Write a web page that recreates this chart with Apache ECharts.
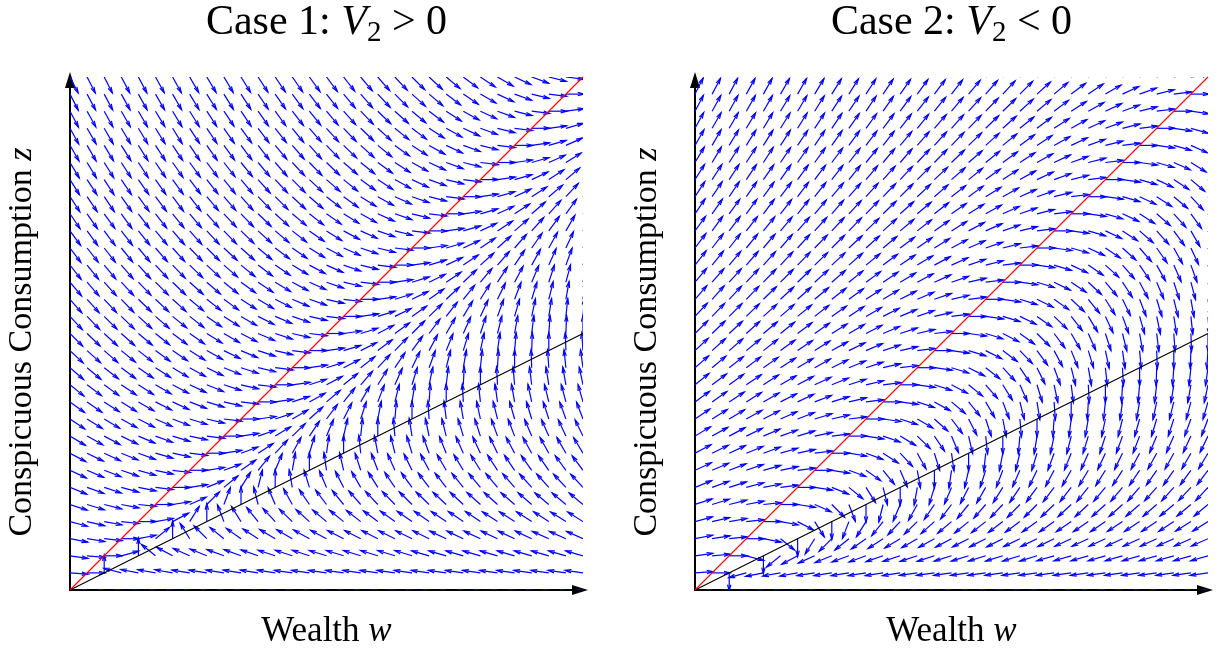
<!DOCTYPE html>
<html>
<head>
<meta charset="utf-8">
<script src="https://cdn.jsdelivr.net/npm/echarts@6/dist/echarts.min.js"></script>
<style>html,body{margin:0;padding:0;background:#fff}#c{width:1218px;height:652px}</style>
</head>
<body>
<div id="c"></div>
<script>
// Arrow directions (degrees, counter-clockwise from +w).
// One string per row, from z = 0 (bottom) to z = 1 (top); 31 arrows per row, from w = 0 to w = 1.
const case1Angles = [
"180 180 180 180 180 180 180 180 180 180 180 180 180 180 180 180 180 180 180 180 180 180 180 180 180 180 180 180 180 180 180",
"-4 0 90 165 169 170 170 171 171 171 171 171 171 172 172 172 172 172 172 172 172 172 172 172 172 172 172 172 172 172 172",
"-8 -5 0 15 90 141 152 156 158 160 160 161 162 162 162 163 163 163 163 163 163 164 164 164 164 164 164 164 164 164 164",
"-11 -9 -6 0 11 39 90 122 135 141 145 147 149 150 151 152 153 153 153 154 154 154 155 155 155 155 155 155 156 156 156",
"-15 -13 -10 -6 0 10 28 58 90 111 122 129 133 136 138 140 141 142 143 144 145 145 146 146 146 147 147 147 147 148 148",
"-18 -17 -14 -11 -6 0 9 24 45 69 90 104 113 119 124 127 129 131 133 134 135 136 137 137 138 138 139 139 140 140 140",
"-22 -20 -18 -15 -11 -7 0 9 22 39 58 76 90 100 107 113 117 120 122 124 126 127 128 129 130 130 131 132 132 133 133",
"-25 -23 -21 -19 -16 -12 -7 0 9 20 35 51 67 80 90 98 103 108 111 114 116 118 120 121 122 123 124 125 125 126 127",
"-28 -26 -25 -22 -20 -16 -12 -7 0 9 20 33 47 61 73 82 90 96 101 104 107 110 112 114 115 116 118 119 119 120 121",
"-31 -29 -28 -26 -23 -20 -17 -12 -7 0 9 19 31 44 56 67 77 84 90 95 99 102 104 107 108 110 111 113 114 115 116",
"-34 -32 -31 -29 -27 -24 -21 -17 -13 -7 0 8 18 30 42 53 63 72 79 85 90 94 97 100 102 104 106 107 108 110 111",
"-36 -35 -33 -32 -30 -27 -25 -21 -17 -13 -7 0 8 18 29 40 51 60 69 76 81 86 90 93 96 98 100 102 104 105 106",
"-39 -37 -36 -34 -33 -30 -28 -25 -22 -18 -13 -7 0 8 18 28 39 49 58 66 73 78 83 87 90 93 95 97 99 100 102",
"-41 -40 -38 -37 -35 -33 -31 -29 -26 -22 -18 -13 -7 0 8 17 27 38 47 56 64 70 76 80 84 87 90 92 94 96 98",
"-43 -42 -41 -39 -38 -36 -34 -32 -29 -26 -23 -18 -13 -7 0 8 17 27 37 46 54 62 68 73 78 82 85 88 90 92 94",
"-45 -44 -43 -42 -40 -39 -37 -35 -32 -30 -27 -23 -18 -13 -7 0 8 17 27 36 45 53 60 66 72 76 80 83 86 88 90",
"-47 -46 -45 -44 -42 -41 -39 -38 -35 -33 -30 -27 -23 -19 -13 -7 0 8 17 26 35 44 52 59 65 70 74 78 81 84 86",
"-49 -48 -47 -46 -44 -43 -42 -40 -38 -36 -33 -31 -27 -23 -19 -13 -7 0 8 17 26 35 43 51 58 64 69 73 76 80 82",
"-50 -49 -48 -47 -46 -45 -44 -42 -41 -39 -36 -34 -31 -28 -24 -19 -13 -7 0 8 17 26 34 43 50 57 62 67 72 75 78",
"-52 -51 -50 -49 -48 -47 -46 -44 -43 -41 -39 -37 -34 -31 -28 -24 -19 -14 -7 0 8 17 25 34 42 49 56 61 66 70 74",
"-53 -52 -52 -51 -50 -49 -48 -46 -45 -43 -42 -40 -37 -35 -32 -28 -24 -19 -14 -7 0 8 16 25 34 42 49 55 61 65 69",
"-54 -54 -53 -52 -51 -50 -49 -48 -47 -46 -44 -42 -40 -38 -35 -32 -28 -24 -19 -14 -7 0 8 16 25 33 41 48 54 60 65",
"-56 -55 -54 -54 -53 -52 -51 -50 -49 -47 -46 -44 -42 -40 -38 -35 -32 -29 -24 -19 -14 -7 0 8 16 25 33 41 48 54 59",
"-57 -56 -56 -55 -54 -53 -53 -52 -50 -49 -48 -46 -45 -43 -41 -38 -36 -32 -29 -24 -19 -14 -7 0 8 16 25 33 40 47 53",
"-58 -57 -57 -56 -55 -55 -54 -53 -52 -51 -50 -48 -47 -45 -43 -41 -39 -36 -33 -29 -25 -20 -14 -7 0 8 16 25 33 40 47",
"-59 -59 -58 -57 -57 -56 -55 -54 -53 -52 -51 -50 -49 -47 -46 -44 -41 -39 -36 -33 -29 -25 -20 -14 -7 0 8 16 24 32 40",
"-60 -60 -59 -58 -58 -57 -56 -56 -55 -54 -53 -52 -50 -49 -48 -46 -44 -42 -39 -36 -33 -29 -25 -20 -14 -7 0 8 16 24 32",
"-61 -60 -60 -59 -59 -58 -58 -57 -56 -55 -54 -53 -52 -51 -49 -48 -46 -44 -42 -39 -37 -33 -29 -25 -20 -14 -7 0 8 16 24",
"-62 -61 -61 -60 -60 -59 -59 -58 -57 -56 -56 -55 -54 -52 -51 -50 -48 -46 -44 -42 -40 -37 -33 -29 -25 -20 -14 -7 0 8 16",
"-63 -62 -62 -61 -61 -60 -60 -59 -58 -58 -57 -56 -55 -54 -53 -52 -50 -49 -47 -45 -42 -40 -37 -34 -30 -25 -20 -14 -7 0 8",
"-63 -63 -63 -62 -62 -61 -61 -60 -59 -59 -58 -57 -56 -55 -54 -53 -52 -50 -49 -47 -45 -43 -40 -37 -34 -30 -25 -20 -14 -7 0"
];
const case2Angles = [
"180 180 180 180 180 180 180 180 180 180 180 180 180 180 180 180 180 180 180 180 180 180 180 180 180 180 180 180 180 180 180",
"4 0 -90 -165 -169 -170 -170 -171 -171 -171 -171 -171 -171 -172 -172 -172 -172 -172 -172 -172 -172 -172 -172 -172 -172 -172 -172 -172 -172 -172 -172",
"8 5 0 -15 -90 -141 -152 -156 -158 -160 -160 -161 -162 -162 -162 -163 -163 -163 -163 -163 -163 -164 -164 -164 -164 -164 -164 -164 -164 -164 -164",
"11 9 6 0 -11 -39 -90 -122 -135 -141 -145 -147 -149 -150 -151 -152 -153 -153 -153 -154 -154 -154 -155 -155 -155 -155 -155 -155 -156 -156 -156",
"15 13 10 6 0 -10 -28 -58 -90 -111 -122 -129 -133 -136 -138 -140 -141 -142 -143 -144 -145 -145 -146 -146 -146 -147 -147 -147 -147 -148 -148",
"18 17 14 11 6 0 -9 -24 -45 -69 -90 -104 -113 -119 -124 -127 -129 -131 -133 -134 -135 -136 -137 -137 -138 -138 -139 -139 -140 -140 -140",
"22 20 18 15 11 7 0 -9 -22 -39 -58 -76 -90 -100 -107 -113 -117 -120 -122 -124 -126 -127 -128 -129 -130 -130 -131 -132 -132 -133 -133",
"25 23 21 19 16 12 7 0 -9 -20 -35 -51 -67 -80 -90 -98 -103 -108 -111 -114 -116 -118 -120 -121 -122 -123 -124 -125 -125 -126 -127",
"28 26 25 22 20 16 12 7 0 -9 -20 -33 -47 -61 -73 -82 -90 -96 -101 -104 -107 -110 -112 -114 -115 -116 -118 -119 -119 -120 -121",
"31 29 28 26 23 20 17 12 7 0 -9 -19 -31 -44 -56 -67 -77 -84 -90 -95 -99 -102 -104 -107 -108 -110 -111 -113 -114 -115 -116",
"34 32 31 29 27 24 21 17 13 7 0 -8 -18 -30 -42 -53 -63 -72 -79 -85 -90 -94 -97 -100 -102 -104 -106 -107 -108 -110 -111",
"36 35 33 32 30 27 25 21 17 13 7 0 -8 -18 -29 -40 -51 -60 -69 -76 -81 -86 -90 -93 -96 -98 -100 -102 -104 -105 -106",
"39 37 36 34 33 30 28 25 22 18 13 7 0 -8 -18 -28 -39 -49 -58 -66 -73 -78 -83 -87 -90 -93 -95 -97 -99 -100 -102",
"41 40 38 37 35 33 31 29 26 22 18 13 7 0 -8 -17 -27 -38 -47 -56 -64 -70 -76 -80 -84 -87 -90 -92 -94 -96 -98",
"43 42 41 39 38 36 34 32 29 26 23 18 13 7 0 -8 -17 -27 -37 -46 -54 -62 -68 -73 -78 -82 -85 -88 -90 -92 -94",
"45 44 43 42 40 39 37 35 32 30 27 23 18 13 7 0 -8 -17 -27 -36 -45 -53 -60 -66 -72 -76 -80 -83 -86 -88 -90",
"47 46 45 44 42 41 39 38 35 33 30 27 23 19 13 7 0 -8 -17 -26 -35 -44 -52 -59 -65 -70 -74 -78 -81 -84 -86",
"49 48 47 46 44 43 42 40 38 36 33 31 27 23 19 13 7 0 -8 -17 -26 -35 -43 -51 -58 -64 -69 -73 -76 -80 -82",
"50 49 48 47 46 45 44 42 41 39 36 34 31 28 24 19 13 7 0 -8 -17 -26 -34 -43 -50 -57 -62 -67 -72 -75 -78",
"52 51 50 49 48 47 46 44 43 41 39 37 34 31 28 24 19 14 7 0 -8 -17 -25 -34 -42 -49 -56 -61 -66 -70 -74",
"53 52 52 51 50 49 48 46 45 43 42 40 37 35 32 28 24 19 14 7 0 -8 -16 -25 -34 -42 -49 -55 -61 -65 -69",
"54 54 53 52 51 50 49 48 47 46 44 42 40 38 35 32 28 24 19 14 7 0 -8 -16 -25 -33 -41 -48 -54 -60 -65",
"56 55 54 54 53 52 51 50 49 47 46 44 42 40 38 35 32 29 24 19 14 7 0 -8 -16 -25 -33 -41 -48 -54 -59",
"57 56 56 55 54 53 53 52 50 49 48 46 45 43 41 38 36 32 29 24 19 14 7 0 -8 -16 -25 -33 -40 -47 -53",
"58 57 57 56 55 55 54 53 52 51 50 48 47 45 43 41 39 36 33 29 25 20 14 7 0 -8 -16 -25 -33 -40 -47",
"59 59 58 57 57 56 55 54 53 52 51 50 49 47 46 44 41 39 36 33 29 25 20 14 7 0 -8 -16 -24 -32 -40",
"60 60 59 58 58 57 56 56 55 54 53 52 50 49 48 46 44 42 39 36 33 29 25 20 14 7 0 -8 -16 -24 -32",
"61 60 60 59 59 58 58 57 56 55 54 53 52 51 49 48 46 44 42 39 37 33 29 25 20 14 7 0 -8 -16 -24",
"62 61 61 60 60 59 59 58 57 56 56 55 54 52 51 50 48 46 44 42 40 37 33 29 25 20 14 7 0 -8 -16",
"63 62 62 61 61 60 60 59 58 58 57 56 55 54 53 52 50 49 47 45 42 40 37 34 30 25 20 14 7 0 -8",
"63 63 63 62 62 61 61 60 59 59 58 57 56 55 54 53 52 50 49 47 45 43 40 37 34 30 25 20 14 7 0"
];
// Relative arrow length per row (bottom row arrows are short).
const rowMagnitude = [0.3,1,1,1,1,1,1,1,1,1,1,1,1,1,1,1,1,1,1,1,1,1,1,1,1,1,1,1,1,1,1];
const GRID_STEPS = 30;
// Reference lines: start (w, z) and end (w, z)
const redLine = [[0, 0], [1, 1]];
const blackLine = [[0, 0], [1, 0.5]];
const titles = ['Case 1: ', 'Case 2: '];
const relations = [' > 0', ' < 0'];

function buildField(rows) {
  const out = [];
  rows.forEach(function (row, j) {
    row.trim().split(/\s+/).forEach(function (a, i) {
      out.push([i / GRID_STEPS, j / GRID_STEPS, +a, rowMagnitude[j]]);
    });
  });
  return out;
}

const ARROW_PX = 18;
const BLUE = '#0000ff';
function renderArrow(params, api) {
  const p = api.coord([api.value(0), api.value(1)]);
  const ang = api.value(2) * Math.PI / 180;
  const len = ARROW_PX * api.value(3);
  const u = Math.cos(ang) * len, v = -Math.sin(ang) * len;
  const tip = [p[0] + u, p[1] + v];
  const A = 0.34, B = 0.27;
  const h1 = [tip[0] - A * (u + B * v), tip[1] - A * (v - B * u)];
  const h2 = [tip[0] - A * (u - B * v), tip[1] - A * (v + B * u)];
  return { type: 'group', children: [
    { type: 'line', shape: { x1: p[0], y1: p[1], x2: tip[0], y2: tip[1] }, style: { stroke: BLUE, lineWidth: 1.2 } },
    { type: 'polyline', shape: { points: [h1, tip, h2] }, style: { stroke: BLUE, lineWidth: 1.2, fill: null } }
  ] };
}

const FONT = 'Liberation Serif';
const chart = echarts.init(document.getElementById('c'), null, { renderer: 'canvas' });
const grids = [{ left: 70, top: 77, width: 513, height: 513 }, { left: 695, top: 77, width: 513, height: 513 }];
function axis(gi) {
  return {
    gridIndex: gi, type: 'value', min: 0, max: 1,
    axisLine: { show: true, onZero: false, lineStyle: { color: '#000', width: 2 },
      symbol: ['none', 'triangle'], symbolSize: [10, 16], symbolOffset: [0, -3] },
    axisTick: { show: false }, axisLabel: { show: false }, splitLine: { show: false }
  };
}
const rich = {
  n: { fontFamily: FONT, fontSize: 42, lineHeight: 50, color: '#000' },
  i: { fontFamily: FONT, fontSize: 42, fontStyle: 'italic', lineHeight: 50, color: '#000' },
  s: { fontFamily: FONT, fontSize: 29, lineHeight: 24, verticalAlign: 'bottom', color: '#000' }
};
const lrich = {
  n: { fontFamily: FONT, fontSize: 35, color: '#000' },
  i: { fontFamily: FONT, fontSize: 35, fontStyle: 'italic', color: '#000' }
};
const lrichY = {
  n: { fontFamily: FONT, fontSize: 34, color: '#000' },
  i: { fontFamily: FONT, fontSize: 34, fontStyle: 'italic', color: '#000' }
};
const graphics = [];
[0, 1].forEach(function (k) {
  const cx = grids[k].left + grids[k].width / 2;
  graphics.push({ type: 'text', x: cx, y: 23, style: { text: '{n|' + titles[k] + '}{i|V}{s|2}{n|' + relations[k] + '}', rich: rich, align: 'center', verticalAlign: 'middle' } });
  graphics.push({ type: 'text', x: cx, y: 632, style: { text: '{n|Wealth }{i|w}', rich: lrich, align: 'center', verticalAlign: 'middle' } });
  graphics.push({ type: 'text', x: grids[k].left - 48, y: 342, rotation: Math.PI / 2, style: { text: '{n|Conspicuous Consumption }{i|z}', rich: lrichY, align: 'center', verticalAlign: 'middle' } });
});

const series = [];
[case1Angles, case2Angles].forEach(function (rows, k) {
  series.push({ type: 'custom', name: 'field' + k, xAxisIndex: k, yAxisIndex: k, renderItem: renderArrow, clip: true,
    data: buildField(rows), encode: { x: 0, y: 1 }, z: 2, silent: true });
});

chart.setOption({
  animation: false,
  backgroundColor: '#fff',
  grid: grids,
  xAxis: [axis(0), axis(1)],
  yAxis: [axis(0), axis(1)],
  graphic: graphics,
  series: series
});

// Reference lines, placed through the chart's own axis scales, drawn on a top layer.
const lineGraphics = [];
[0, 1].forEach(function (k) {
  [[blackLine, '#000000'], [redLine, '#ff0000']].forEach(function (spec, n) {
    const a = chart.convertToPixel({ gridIndex: k }, spec[0][0]);
    const b = chart.convertToPixel({ gridIndex: k }, spec[0][1]);
    lineGraphics.push({ type: 'line', id: 'ref' + k + '_' + n, zlevel: 2, z: 100, silent: true,
      shape: { x1: a[0], y1: a[1], x2: b[0], y2: b[1] },
      style: { stroke: spec[1], lineWidth: 1.1, fill: null } });
  });
});
chart.setOption({ graphic: lineGraphics });
</script>
</body>
</html>
